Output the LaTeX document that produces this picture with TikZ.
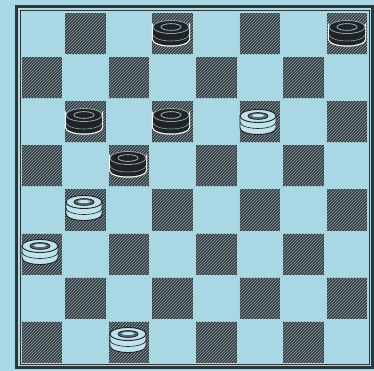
\documentclass[tikz,border=0pt]{standalone}
\usetikzlibrary{patterns}
\definecolor{boardbg}{HTML}{A9D8E4}
\definecolor{darksq}{HTML}{343C40}
\definecolor{hatch}{HTML}{8FA3AA}
\definecolor{framec}{HTML}{2E3538}
\definecolor{piecedark}{HTML}{1F2326}
\definecolor{piecelight}{HTML}{BFE3EC}
\tikzset{
  darkbox/.style={fill=darksq},
  hatchbox/.style={pattern=north east lines, pattern color=hatch},
  thickframe/.style={draw=framec, line width=3pt},
  thinframe/.style={draw=framec, line width=1pt},
  pics/bpiece/.style={code={
    \draw[white, line width=2.4pt] (-18,-6) -- (-18,6) arc[start angle=180,end angle=0,x radius=18,y radius=6.5] -- (18,-6) arc[start angle=0,end angle=180,x radius=18,y radius=6.5] -- cycle;
    \fill[piecedark] (-18,-6) -- (-18,6) arc[start angle=180,end angle=0,x radius=18,y radius=6.5] -- (18,-6) -- cycle;
    \draw[hatch, line width=0.6pt] (-18,1.5) arc[start angle=180,end angle=0,x radius=18,y radius=6.5];
    \filldraw[fill=piecedark, draw=hatch, line width=0.8pt] (0,-6) ellipse[x radius=18,y radius=6.5];
    \draw[hatch, line width=0.9pt] (0,-6) ellipse[x radius=10,y radius=3.4];
  }},
  pics/wpiece/.style={code={
    \filldraw[fill=piecelight, draw=piecedark, line width=0.9pt] (-18,-6) -- (-18,6) arc[start angle=180,end angle=0,x radius=18,y radius=6.5] -- (18,-6) -- cycle;
    \draw[piecedark, line width=0.6pt] (-18,0) arc[start angle=180,end angle=0,x radius=18,y radius=6.5];
    \filldraw[fill=piecelight, draw=piecedark, line width=0.9pt] (0,-6) ellipse[x radius=18,y radius=6.5];
    \filldraw[fill=piecedark!70, draw=piecedark, line width=0.8pt] (0,-6) ellipse[x radius=10,y radius=3.4];
    \fill[piecelight] (0,-6.5) ellipse[x radius=6.5,y radius=1.5];
  }}
}
\begin{document}
\begin{tikzpicture}[x=1pt,y=-1pt]
\fill[boardbg] (0,0) rectangle (374,371);
\useasboundingbox (0,0) rectangle (374,371);
% squares
\foreach \r in {0,...,7}{
  \foreach \c in {0,...,7}{
    \pgfmathtruncatemacro{\odd}{mod(\r+\c,2)}
    \ifnum\odd=1
      \fill[darkbox] ({20+43.6*\c+1.5},{12+44*\r+1.5}) rectangle ({20+43.6*(\c+1)-1.5},{12+44*(\r+1)-1.5});
      \fill[hatchbox] ({20+43.6*\c+1.5},{12+44*\r+1.5}) rectangle ({20+43.6*(\c+1)-1.5},{12+44*(\r+1)-1.5});
    \fi
  }
}
% frame
\draw[thinframe] (20,11) rectangle (369,364);
\draw[thickframe] (16,7) -- (372,7) -- (372,367) -- (16,367) -- cycle;
% pieces
\pic at (171,33) {bpiece};
\pic at (347,33) {bpiece};
\pic at (84,121) {bpiece};
\pic at (171,121) {bpiece};
\pic at (258,122) {wpiece};
\pic at (128,164) {bpiece};
\pic at (84,208) {wpiece};
\pic at (40,252) {wpiece};
\pic at (128,340) {wpiece};
\end{tikzpicture}
\end{document}
